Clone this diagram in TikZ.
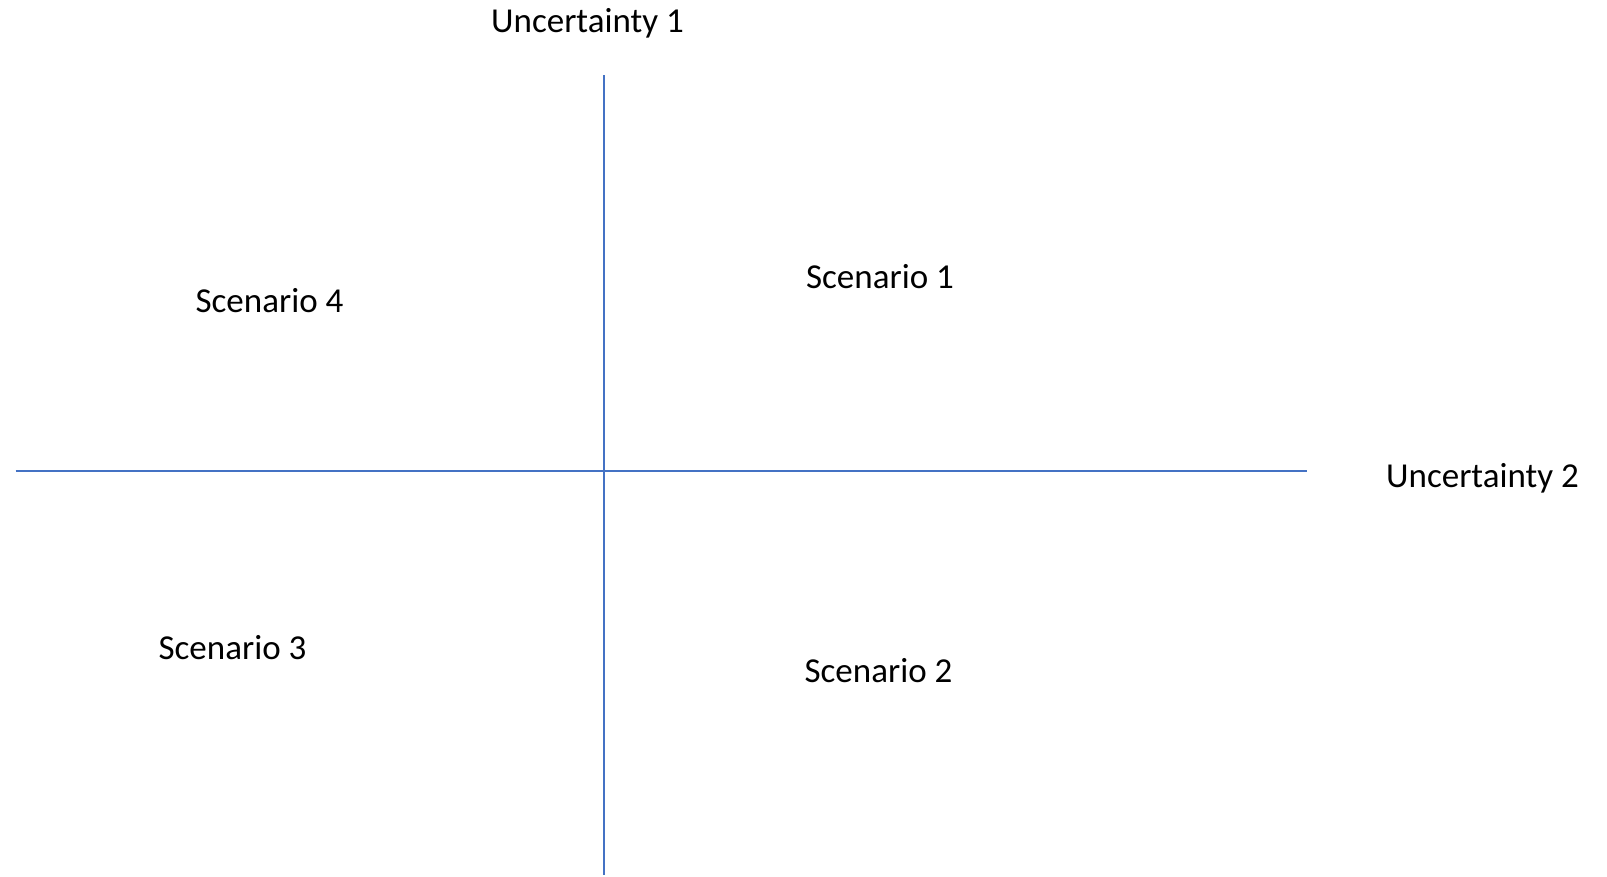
\documentclass[tikz,border=0pt]{standalone}
\usepackage{fontspec}
\setmainfont{Carlito}
\definecolor{axisblue}{HTML}{4472C4}
\begin{document}
\begin{tikzpicture}[x=1pt,y=-1pt,
  lbl/.style={font=\fontsize{35}{40}\selectfont, inner sep=0pt, text=black},
  axis/.style={draw=axisblue, line width=2pt}]
\useasboundingbox[fill=white] (0,0) rectangle (1607,876);
\coordinate (vt) at (603.7,75);
\coordinate (vb) at (603.7,875);
\coordinate (hl) at (15.5,471.3);
\coordinate (hr) at (1306.5,471.3);
\draw[axis] (vt) -- (vb);
\draw[axis] (hl) -- (hr);
\node[lbl] (u1) at (587.5,23.5) {Uncertainty 1};
\node[lbl] (u2) at (1482.5,478) {Uncertainty 2};
\node[lbl] (s1) at (880,277) {Scenario 1};
\node[lbl] (s4) at (269.5,300.5) {Scenario 4};
\node[lbl] (s3) at (232.5,648) {Scenario 3};
\node[lbl] (s2) at (878.5,671) {Scenario 2};
\end{tikzpicture}
\end{document}
